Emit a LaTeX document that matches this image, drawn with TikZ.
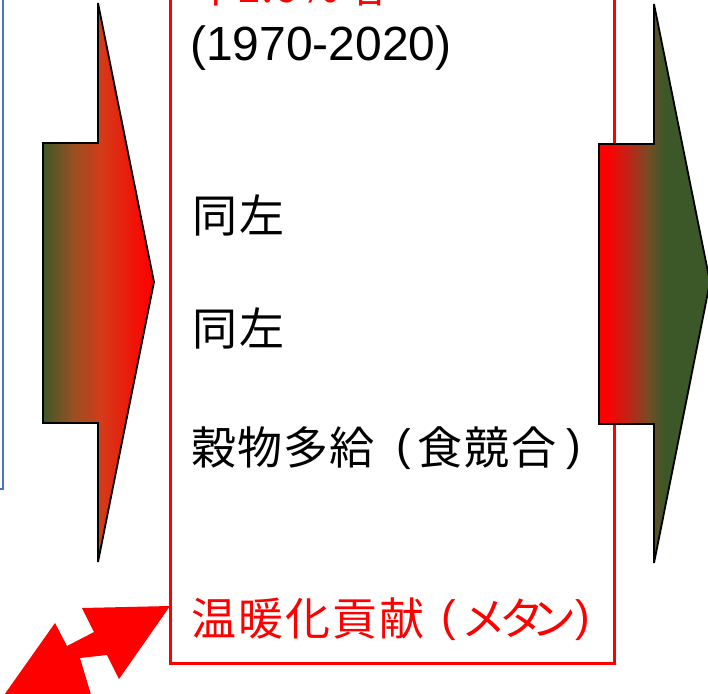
\documentclass[tikz,border=0pt]{standalone}
\usepackage{fontspec}
\setmainfont{Liberation Sans}
\newfontfamily\jp{Noto Sans CJK JP}
\newcommand\jpch[2]{\makebox[#1pt][l]{#2}}
\newcommand\lpar{\raisebox{4pt}{\rmfamily\fontsize{44}{44}\selectfont (}}
\newcommand\rpar{\raisebox{4pt}{\rmfamily\fontsize{44}{44}\selectfont )}}
\definecolor{cg}{RGB}{60,88,40}
\definecolor{cb}{RGB}{150,80,35}
\definecolor{co}{RGB}{210,60,25}
\definecolor{cr2}{RGB}{185,40,25}
\definecolor{cb2}{RGB}{120,75,35}
\definecolor{bl}{RGB}{68,114,196}
\tikzset{
  jptext/.style={anchor=base west, inner sep=0pt, font=\jp\fontsize{45}{45}\selectfont},
  lattext/.style={anchor=base west, inner sep=0pt, font=\fontsize{48}{48}\selectfont},
  outline/.style={draw=black, line width=1.8pt, line join=miter},
}
\begin{document}
\begin{tikzpicture}[x=1pt,y=-1pt]
\useasboundingbox (0,0) rectangle (708,693);
% blue box edge
\draw[bl, line width=1.4pt] (-2,489) -- (3,489) -- (3,-5);
% red box
\draw[red, line width=3pt] (170,-10) -- (170,663) -- (614,663) -- (614,-10);
% texts
\node[jptext, red] (t0) at (191,3) {年1.6\%増};
\node[lattext] (t1) at (190,60) {(1970-2020)};
\node[jptext] (t2) at (192,232) {\jpch{47}{同}左};
\node[jptext] (t3) at (192,345) {\jpch{47}{同}左};
\node[jptext] (t4) at (191,464) {\jpch{46}{穀}\jpch{46}{物}\jpch{46}{多}\jpch{67}{給}\jpch{21}{\lpar}\jpch{47}{食}\jpch{47}{競}\jpch{55}{合}\rpar};
\node[jptext, red] (t5) at (191,635) {\jpch{47}{温}\jpch{47}{暖}\jpch{47}{化}\jpch{47}{貢}\jpch{62}{献}\jpch{20}{\lpar}\jpch{38}{メ}\jpch{32}{タ}\jpch{44}{ン}\rpar};
% left arrow
\begin{scope}
\clip (43,143) -- (98,143) -- (98,3) -- (154,282) -- (98,562) -- (98,423) -- (43,423) -- cycle;
\shade[left color=cg, right color=cb] (42,0) rectangle (72.5,600);
\shade[left color=cb, right color=co] (72,0) rectangle (100.5,600);
\shade[left color=co, right color=red] (100,0) rectangle (150.5,600);
\fill[red] (150,0) rectangle (160,600);
\end{scope}
\draw[outline] (43,143) -- (98,143) -- (98,3) -- (154,282) -- (98,562) -- (98,423) -- (43,423) -- cycle;
% right arrow
\begin{scope}
\clip (599,144) -- (654,144) -- (654,4) -- (710,282) -- (654,563) -- (654,424) -- (599,424) -- cycle;
\fill[red] (598,0) rectangle (606.5,600);
\shade[left color=red, right color=cr2] (606,0) rectangle (630.5,600);
\shade[left color=cr2, right color=cb2] (630,0) rectangle (647.5,600);
\shade[left color=cb2, right color=cg] (647,0) rectangle (664.5,600);
\fill[cg] (664,0) rectangle (712,600);
\end{scope}
\draw[outline] (599,144) -- (654,144) -- (654,4) -- (710,282) -- (654,563) -- (654,424) -- (599,424) -- cycle;
% red double arrow
\fill[red] (170,606) -- (82,608) -- (94,632) -- (67,646) -- (55,623) -- (2,698) -- (92,698) -- (80,658) -- (107,655) -- (119,679) -- cycle;
\end{tikzpicture}
\end{document}
